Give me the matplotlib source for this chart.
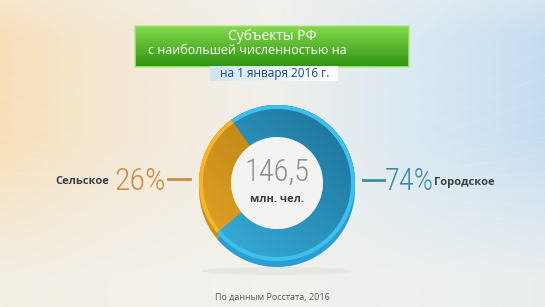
import numpy as np
import matplotlib
matplotlib.use('Agg')
import matplotlib.pyplot as plt
from matplotlib.patches import Rectangle, Circle, Ellipse

# --- data -------------------------------------------------------------
title_lines = ['Субъекты РФ', 'с наибольшей численностью на']
date_label = 'на 1 января 2016 г.'
categories = ['Сельское', 'Городское']
shares = [26, 74]
total_value = '146,5'
total_unit = 'млн. чел.'
source_note = 'По данным Росстата, 2016'

# --- styling ----------------------------------------------------------
W, H = 545, 307
FONT = ['Open Sans', 'DejaVu Sans']
NARROW = ['Roboto Condensed', 'Open Sans', 'DejaVu Sans']
ORANGE_TOP, ORANGE_BOT, ORANGE_RIM, ORANGE_SIDE = '#a8760f', '#e6a527', '#f7b425', '#d08f14'
BLUE_TOP, BLUE_BOT, BLUE_RIM, BLUE_SIDE = '#1a6f95', '#3bb2e0', '#3cc1ee', '#2a9dd2'
ORANGE_TXT, TEAL_TXT = '#d38a3f', '#3a8da6'

plt.rcParams['font.family'] = FONT


def hex2rgb(c):
    return np.array(matplotlib.colors.to_rgb(c))


def grad_image(ax, clip, c0, c1, extent, direction='v', z=2):
    """Fill a patch with a linear gradient (c0 at top/left -> c1)."""
    t = np.linspace(0, 1, 256)
    cols = (1 - t)[:, None] * hex2rgb(c0) + t[:, None] * hex2rgb(c1)
    arr = cols[:, None, :] if direction == 'v' else cols[None, :, :]
    if direction == 'd':
        tt = np.add.outer(np.linspace(0, 1, 128), np.linspace(1, 0, 128)) / 2
        arr = (1 - tt)[..., None] * hex2rgb(c0) + tt[..., None] * hex2rgb(c1)
    im = ax.imshow(arr, extent=extent, origin='upper', aspect='auto',
                   zorder=z, interpolation='bilinear')
    im.set_clip_path(clip)
    return im


fig = plt.figure(figsize=(W / 100, H / 100), dpi=100)
ax = fig.add_axes([0, 0, 1, 1])

# background: warm left, white middle, light blue right, whiter towards the bottom
xs = np.linspace(0, 1, W)
yy = np.linspace(0, 1, H)[:, None, None]
stops_x = [0.0, 0.2, 0.5, 0.8, 1.0]
cols_x = [hex2rgb(c) for c in ('#f8dfb8', '#f5e8d3', '#f1f0ec', '#d6e7f3', '#c6ddf1')]
bg = np.zeros((H, W, 3))
for k in range(3):
    bg[..., k] = np.interp(xs, stops_x, [c[k] for c in cols_x])[None, :]
white = hex2rgb('#f2f2ee')
fade = np.clip((yy - 0.45) / 0.45, 0, 1) * 0.8 + np.clip((0.12 - yy) / 0.12, 0, 1) * 0.35
bg = bg * (1 - fade) + white * fade
ax.imshow(bg, extent=(0, W, 0, H), origin='upper', aspect='auto', zorder=0)

# faint light rays
cx0, cy0 = 275, H - 190
for a in np.linspace(0, 2 * np.pi, 70, endpoint=False):
    ax.plot([cx0 + 170 * np.cos(a), cx0 + 700 * np.cos(a)],
            [cy0 + 120 * np.sin(a), cy0 + 500 * np.sin(a)],
            color='white', lw=0.5, alpha=0.18, zorder=0.5)

# --- title boxes ------------------------------------------------------
glow = Rectangle((134, H - 68), 276, 43, facecolor='#9be86a', alpha=0.5,
                 edgecolor='none', zorder=1)
ax.add_patch(glow)
tbox = Rectangle((136, H - 66), 272, 39, facecolor='#4caf22', edgecolor='#8fdc5c',
                 lw=1.2, zorder=2)
ax.add_patch(tbox)
grad_image(ax, tbox, '#82d84a', '#2f9512', (136, 408, H - 66, H - 27), z=2.1)
ax.text(272, H - 36, title_lines[0], ha='center', va='center', color='white',
        fontsize=10, zorder=3)
ax.text(148, H - 51, title_lines[1], ha='left', va='center', color='white',
        fontsize=9, zorder=3)

dbox = Rectangle((210, H - 81), 128, 15, facecolor='#e8f2f8', edgecolor='none', zorder=2)
ax.add_patch(dbox)
grad_image(ax, dbox, '#cfe6f4', '#ffffff', (210, 338, H - 81, H - 66), direction='h', z=2.1)
ax.text(275, H - 73, date_label, ha='center', va='center', color='#1b4a7a',
        fontsize=8.5, zorder=3)

# --- donut ------------------------------------------------------------
cx, cy = 277, H - 183
R, ring = 78, 32
start = 126

ax.add_patch(Ellipse((cx, H - 271), 150, 8, facecolor='#a0a0a0', alpha=0.12,
                     edgecolor='none', zorder=1))

# side wall (3-D thickness)
side, _ = ax.pie(shares, colors=[ORANGE_SIDE, BLUE_SIDE], startangle=start,
                 counterclock=True, radius=R, center=(cx, cy - 6),
                 wedgeprops=dict(width=ring + 6, linewidth=0))
for w in side:
    w.set_zorder(3)

# top face
top, _ = ax.pie(shares, colors=[ORANGE_BOT, BLUE_BOT], startangle=start,
                counterclock=True, radius=R, center=(cx, cy),
                wedgeprops=dict(width=ring, linewidth=0))
ext = (cx - R, cx + R, cy - R, cy + R)
for w, (c0, c1) in zip(top, [(ORANGE_TOP, ORANGE_BOT), (BLUE_TOP, BLUE_BOT)]):
    w.set_zorder(4)
    grad_image(ax, w, c0, c1, ext, direction='d', z=4.1)

# bright outer rim
rim, _ = ax.pie(shares, colors=[ORANGE_RIM, BLUE_RIM], startangle=start,
                counterclock=True, radius=R, center=(cx, cy),
                wedgeprops=dict(width=4, linewidth=0))
for w in rim:
    w.set_zorder(4.5)

ax.add_patch(Circle((cx, cy), R - ring, facecolor='#f3f3f1', edgecolor='none',
                    zorder=4.2))

ax.text(cx, H - 172, total_value, ha='center', va='center', fontsize=22,
        fontweight='light', color='#8a8f92', family=NARROW, zorder=5)
ax.text(cx, H - 199, total_unit, ha='center', va='center', fontsize=8,
        fontweight='bold', color='#3a3d40', zorder=5)

# --- side labels --------------------------------------------------------
ax.plot([168, 190], [H - 179, H - 179], color=ORANGE_TXT, lw=2, zorder=3)
ax.plot([363, 384], [H - 180, H - 180], color=TEAL_TXT, lw=2, zorder=3)

ax.text(166, H - 181, f'{shares[0]}%', ha='right', va='center', fontsize=23,
        fontweight='light', color=ORANGE_TXT, family=NARROW, zorder=5)
ax.text(109, H - 182, categories[0], ha='right', va='center', fontsize=8,
        fontweight='bold', color='#3c3f42', zorder=5)
ax.text(385, H - 181, f'{shares[1]}%', ha='left', va='center', fontsize=22,
        fontweight='light', color=TEAL_TXT, family=NARROW, zorder=5)
ax.text(434, H - 182, categories[1], ha='left', va='center', fontsize=8,
        fontweight='bold', color='#3c3f42', zorder=5)

ax.text(272, H - 297, source_note, ha='center', va='center', fontsize=6.5,
        color='#555a5e', zorder=5)

ax.set_xlim(0, W)
ax.set_ylim(0, H)
ax.set_aspect('auto')
ax.axis('off')

fig.savefig('out.png', dpi=100)
